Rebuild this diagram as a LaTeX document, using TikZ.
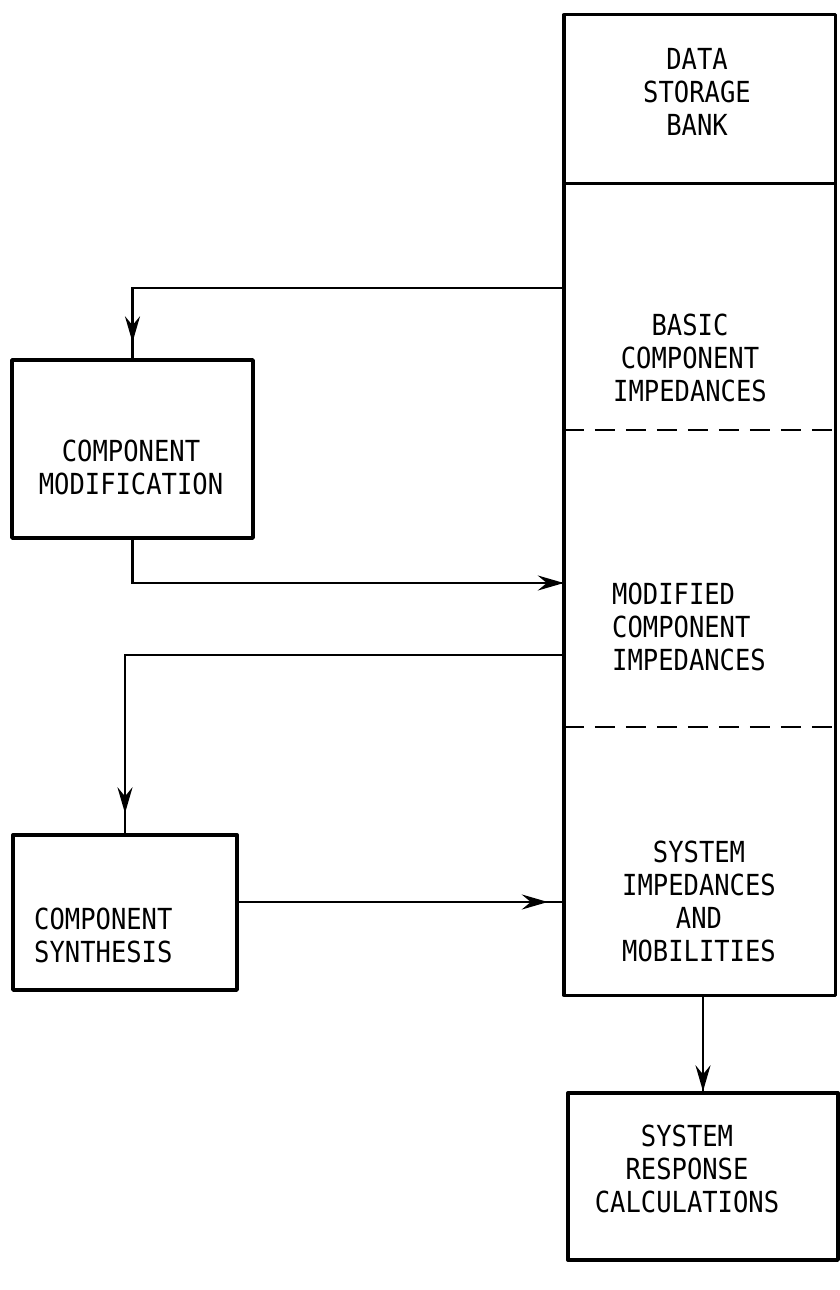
\documentclass[tikz,border=0pt]{standalone}
\usepackage{fontspec}
\newfontfamily\diagfont[FakeStretch=0.88]{DejaVu Sans Mono}
\usetikzlibrary{arrows.meta,decorations.markings}
\begin{document}
\begin{tikzpicture}[x=1pt,y=-1pt,
  txt/.style={inner sep=0pt,font=\diagfont\fontsize{29}{33}\selectfont},
  boxshape/.style={draw,line width=3.4pt,line join=round,inner sep=0pt},
  section/.style={inner sep=0pt,minimum width=271pt},
  conn/.style={line width=2.8pt},
  tipmark/.style={postaction={decorate},decoration={markings,
     mark=at position #1 with {\arrow{Stealth[length=26pt,width=15pt,inset=9pt]}}}},
  divline/.style={line width=2.8pt},
  dashdiv/.style={line width=2.4pt,dash pattern=on 20pt off 11pt}
]
\useasboundingbox (0,0) rectangle (840,1290);

% right column sections
\node[section,minimum height=168pt] (data) at (699.5,99) {};
\node[section,minimum height=247pt] (basic) at (699.5,306.5) {};
\node[section,minimum height=297pt] (modified) at (699.5,578.5) {};
\node[section,minimum height=268pt] (system) at (699.5,861) {};
\draw[boxshape] (data.north west) rectangle (system.south east);
\draw[divline] (data.south west) -- (data.south east);
\draw[dashdiv] (basic.south west) -- (basic.south east);
\draw[dashdiv] (modified.south west) -- (modified.south east);

\node[txt,align=center] (datat) at (697,92) {DATA\\STORAGE\\BANK};
\node[txt,align=center] (basict) at (690,358) {BASIC\\COMPONENT\\IMPEDANCES};
\node[txt,align=left,anchor=west] (modifiedt) at (612,627) {MODIFIED\\COMPONENT\\IMPEDANCES};
\node[txt,align=center] (systemt) at (699,901) {SYSTEM\\IMPEDANCES\\AND\\MOBILITIES};

% other boxes
\node[boxshape,minimum width=241pt,minimum height=178pt] (mod) at (132.5,449) {};
\node[txt,align=center] (modt) at (131,467) {COMPONENT\\MODIFICATION};
\node[boxshape,minimum width=224pt,minimum height=155pt] (synth) at (125,912.5) {};
\node[txt,align=left,anchor=west] (syntht) at (34,935) {COMPONENT\\SYNTHESIS};
\node[boxshape,minimum width=270pt,minimum height=167pt] (resp) at (703,1176.5) {};
\node[txt,align=center] (respt) at (687,1169) {SYSTEM\\RESPONSE\\CALCULATIONS};

% connectors
\draw[conn,tipmark=-16pt] ([yshift=18.5pt]basic.west) -| (mod.north);
\draw[conn,tipmark=1] (mod.south) |- ([yshift=-4.5pt]modified.west);
\draw[conn,tipmark=-20pt] ([yshift=-76.5pt]modified.west) -| (synth.north);
\draw[conn,tipmark=-16pt] ([yshift=10.5pt]synth.east) -- ([yshift=10.5pt]synth.east -| system.west);
\draw[conn,tipmark=1] (system.south -| resp.north) -- (resp.north);
\end{tikzpicture}
\end{document}
